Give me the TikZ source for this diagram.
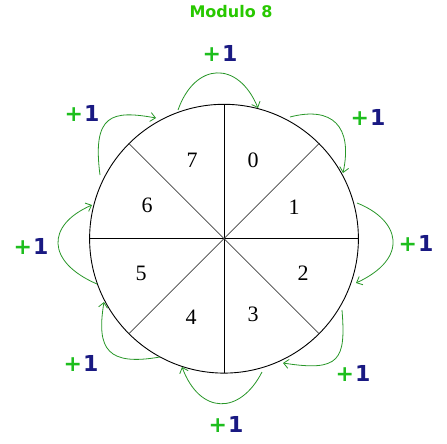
\documentclass[tikz,border=0pt]{standalone}
\usepackage{fontspec}
\setmainfont{Liberation Serif}
\newfontfamily\lblfont{DejaVu Sans}
\usetikzlibrary{arrows.meta}
\definecolor{titlegreen}{RGB}{40,200,0}
\definecolor{plusgreen}{RGB}{30,190,30}
\definecolor{onenavy}{RGB}{25,25,130}
\definecolor{arrowgreen}{RGB}{40,150,40}
\tikzset{
  digit/.style={font=\fontsize{22}{22}\selectfont, inner sep=0pt},
  plusone/.style={font=\lblfont\bfseries\fontsize{22}{22}\selectfont, inner sep=0pt},
  titlestyle/.style={font=\lblfont\bfseries\fontsize{16}{16}\selectfont, text=titlegreen, inner sep=0pt},
  incarrow/.style={draw=arrowgreen, line width=0.8pt, -{Straight Barb[length=5pt,width=9pt]}},
  rim/.style={line width=0.9pt},
  spoke/.style={line width=0.8pt},
  diagspoke/.style={line width=0.7pt, draw=black!75}
}
\newcommand{\incplus}{{\color{plusgreen}+}\hspace{1pt}{\color{onenavy}1}}
\begin{document}
\begin{tikzpicture}[x=1pt,y=-1pt]
\useasboundingbox (0,0) rectangle (447,444);
% circle and spokes
\coordinate (C) at (224,238.7);
\coordinate (pN) at (224,104.3);
\coordinate (pS) at (224,373.1);
\coordinate (pW) at (89.6,238.7);
\coordinate (pE) at (358.4,238.7);
\coordinate (pNE) at (319.03,143.67);
\coordinate (pSW) at (128.97,333.73);
\coordinate (pNW) at (128.97,143.67);
\coordinate (pSE) at (319.03,333.73);
\draw[rim] (C) circle[radius=134.4pt];
\draw[spoke] (pN) -- (pS);
\draw[spoke] (pW) -- (pE);
\draw[diagspoke] (pNE) -- (pSW);
\draw[diagspoke] (pNW) -- (pSE);
% sector digits
\node[digit] (d0) at (253,160) {0};
\node[digit] (d1) at (294,207) {1};
\node[digit] (d2) at (303,273) {2};
\node[digit] (d3) at (253,314) {3};
\node[digit] (d4) at (191,317) {4};
\node[digit] (d5) at (141,273) {5};
\node[digit] (d6) at (147,205) {6};
\node[digit] (d7) at (192,160) {7};
% title
\node[titlestyle] (title) at (231,12) {Modulo 8};
% +1 labels
\node[plusone] (l1) at (220,53) {\incplus};
\node[plusone] (l2) at (368,117) {\incplus};
\node[plusone] (l3) at (416,243) {\incplus};
\node[plusone] (l4) at (353,373) {\incplus};
\node[plusone] (l5) at (226,424) {\incplus};
\node[plusone] (l6) at (81,363) {\incplus};
\node[plusone] (l7) at (31,246) {\incplus};
\node[plusone] (l8) at (82,113) {\incplus};
% arrow end points
\coordinate (a1s) at (178,110);  \coordinate (a1e) at (258,108);
\coordinate (a2s) at (290,117);  \coordinate (a2e) at (343,173);
\coordinate (a3s) at (357,203);  \coordinate (a3e) at (356,283);
\coordinate (a4s) at (342,310);  \coordinate (a4e) at (283,363);
\coordinate (a5s) at (262,372);  \coordinate (a5e) at (182,367);
\coordinate (a6s) at (160,357);  \coordinate (a6e) at (104,302);
\coordinate (a7s) at (97,284);   \coordinate (a7e) at (92,205);
\coordinate (a8s) at (100,175);  \coordinate (a8e) at (156,118);
% arrows
\draw[incarrow] (a1s) .. controls (195,62) and (238,60) .. (a1e);
\draw[incarrow] (a2s) .. controls (332,106) and (353,126) .. (a2e);
\draw[incarrow] (a3s) .. controls (400,220) and (410,258) .. (a3e);
\draw[incarrow] (a4s) .. controls (346,360) and (340,372) .. (a4e);
\draw[incarrow] (a5s) .. controls (240,415) and (200,415) .. (a5e);
\draw[incarrow] (a6s) .. controls (108,366) and (96,350) .. (a6e);
\draw[incarrow] (a7s) .. controls (46,262) and (46,225) .. (a7e);
\draw[incarrow] (a8s) .. controls (92,114) and (112,110) .. (a8e);
\end{tikzpicture}
\end{document}
